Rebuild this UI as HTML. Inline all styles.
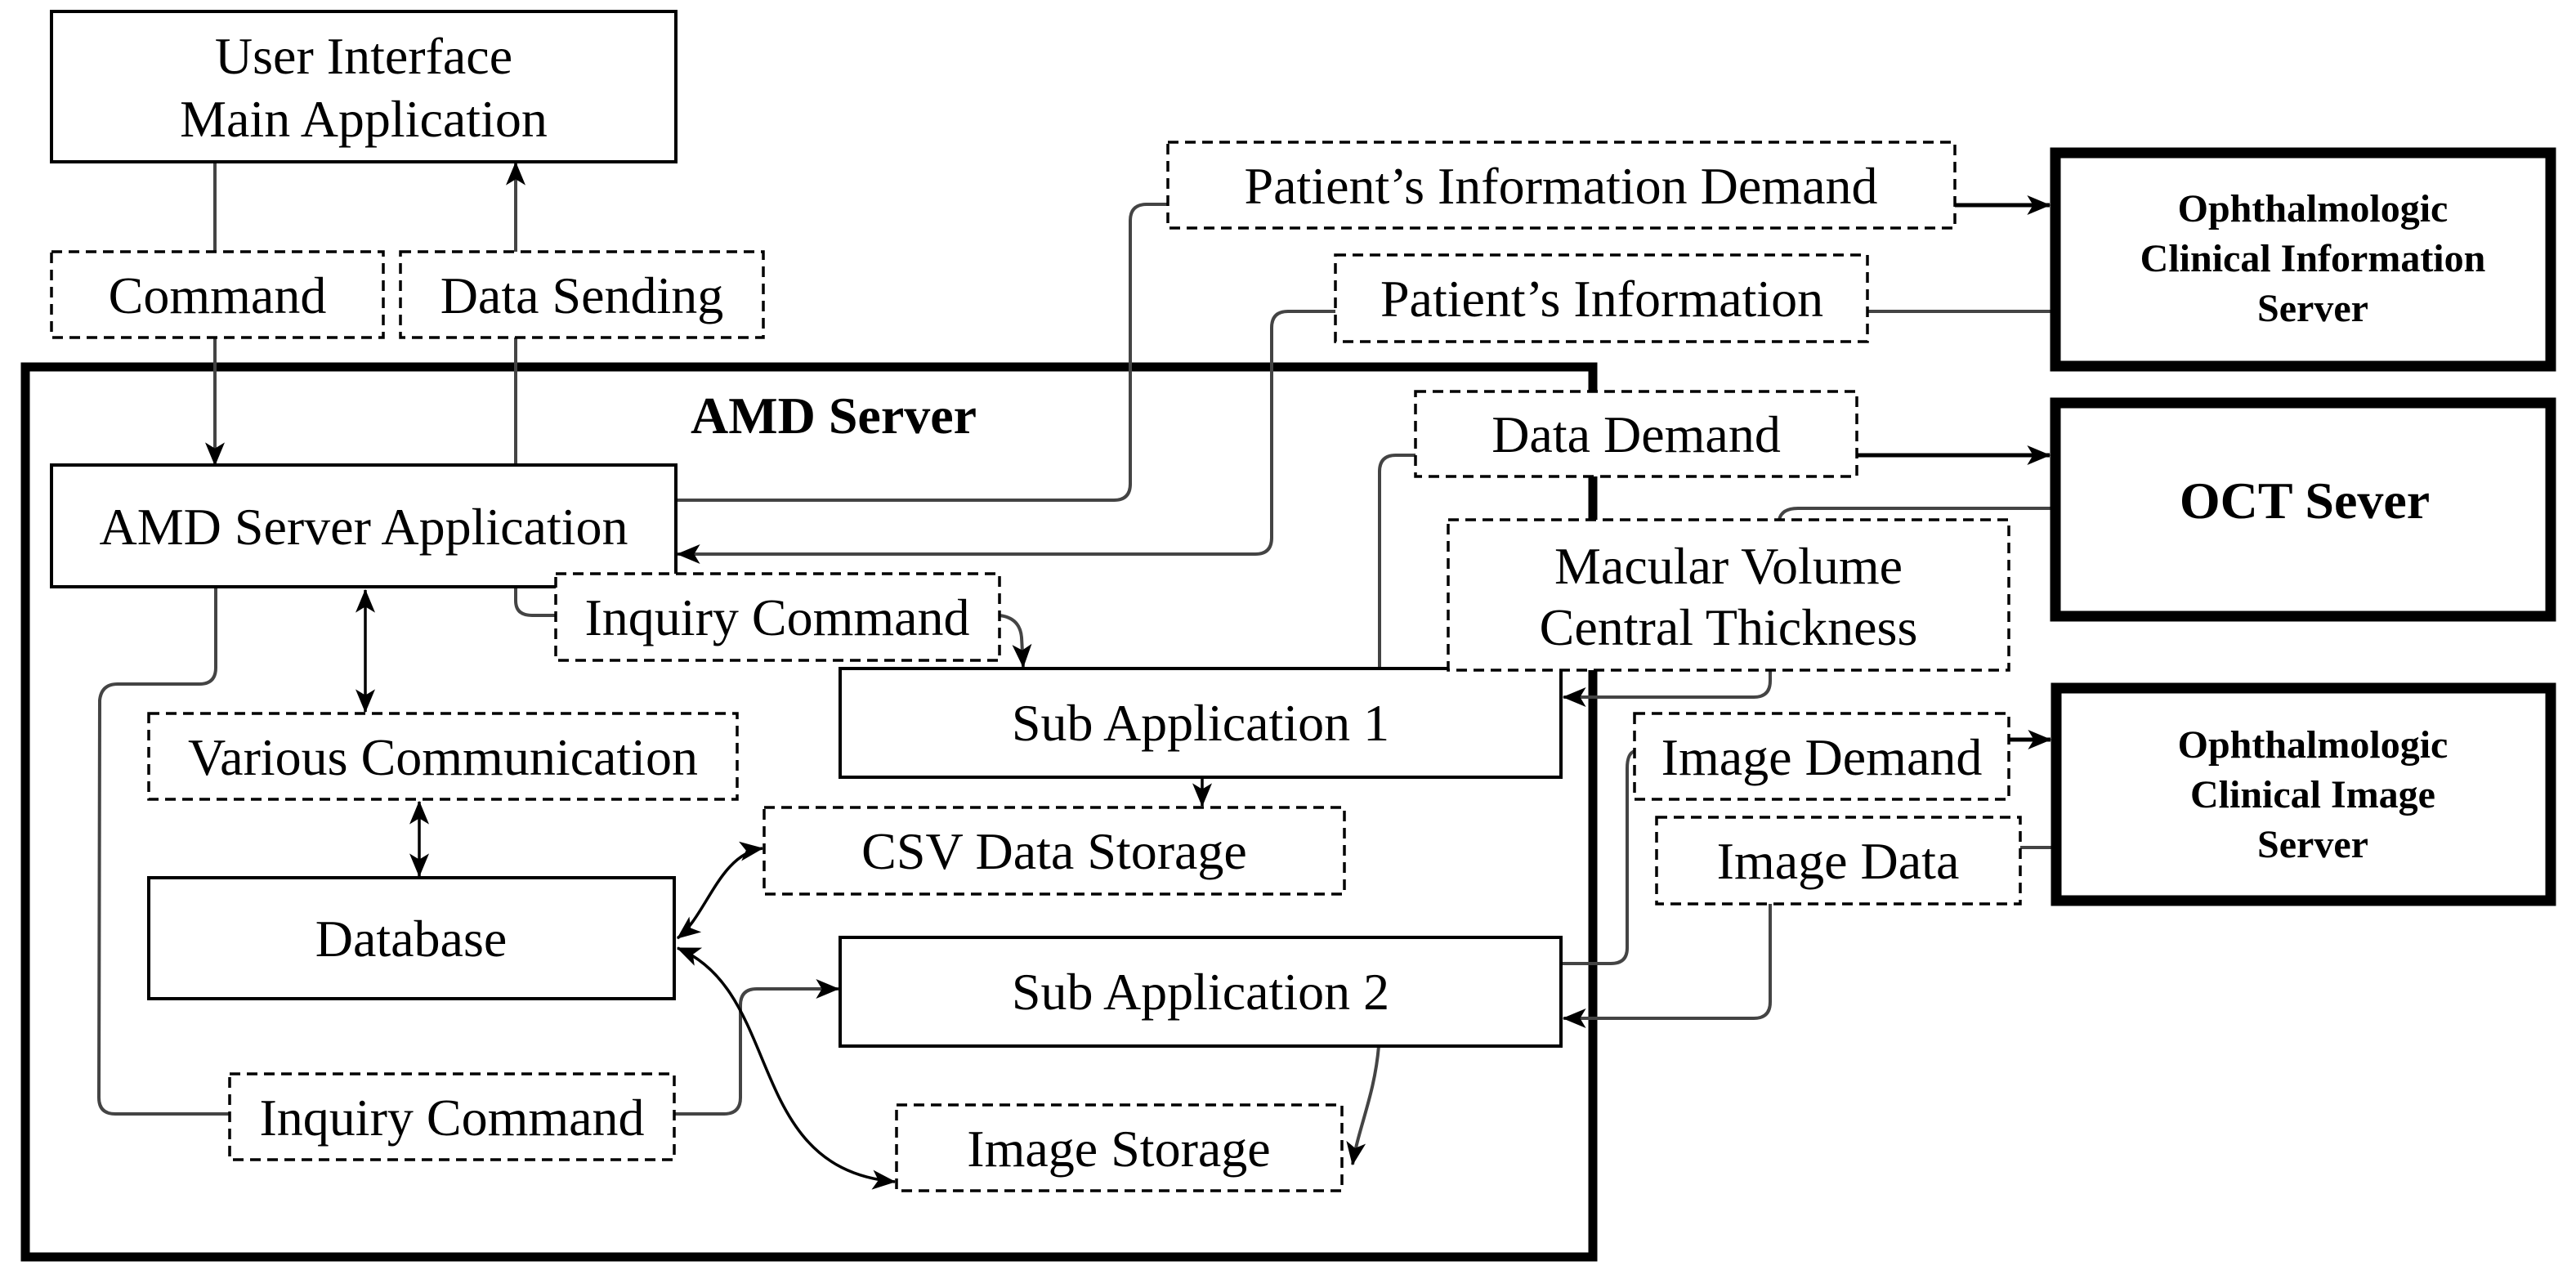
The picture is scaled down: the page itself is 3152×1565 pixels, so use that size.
<!DOCTYPE html>
<html><head><meta charset="utf-8"><style>
html,body{margin:0;padding:0;background:#fff;}
svg{display:block;}
text{font-family:"Liberation Serif",serif;fill:#000;}
</style></head><body>
<svg width="3152" height="1565" viewBox="0 0 3152 1565" xmlns="http://www.w3.org/2000/svg">
<defs>
<marker id="a" viewBox="0 0 24 20" refX="23" refY="10" markerWidth="30" markerHeight="24" markerUnits="userSpaceOnUse" orient="auto-start-reverse">
<path d="M0,0 L24,10 L0,20 L6,10 Z" fill="#000"/>
</marker>
</defs>
<rect width="3152" height="1565" fill="#fff"/>

<rect x="31" y="449" width="1918" height="1089" fill="none" stroke="#000" stroke-width="11"/>

<g fill="none" stroke="#444" stroke-width="4">
<line x1="263" y1="198" x2="263" y2="308"/>
<path d="M263,413 L263,569" marker-end="url(#a)"/>
<path d="M631,308 L631,199" marker-end="url(#a)"/>
<line x1="631" y1="413" x2="631" y2="569"/>
<path d="M827,612 L1363,612 Q1383,612 1383,592 L1383,270 Q1383,250 1403,250 L1429,250"/>
<path d="M2392,251 L2508,251" stroke="#000" stroke-width="5" marker-end="url(#a)"/>
<line x1="2509" y1="381" x2="2285" y2="381"/>
<path d="M1634,381 L1576,381 Q1556,381 1556,401 L1556,658 Q1556,678 1536,678 L829,678" marker-end="url(#a)"/>
<path d="M2272,557 L2508,557" stroke="#000" stroke-width="5" marker-end="url(#a)"/>
<path d="M1732,557 L1708,557 Q1688,557 1688,577 L1688,818"/>
<path d="M2509,622 L2200,622 Q2180,622 2177,636"/>
<path d="M2166,820 L2166,833 Q2166,853 2146,853 L1913,853" marker-end="url(#a)"/>
<path d="M2458,905 L2509,905" stroke="#000" stroke-width="5" marker-end="url(#a)"/>
<path d="M2000,919 Q1991,922 1991,940 L1991,1160 Q1991,1179 1971,1179 L1911,1179"/>
<line x1="2472" y1="1037" x2="2510" y2="1037"/>
<path d="M2166,1106 L2166,1226 Q2166,1246 2146,1246 L1913,1246" marker-end="url(#a)"/>
<path d="M631,718 L631,735 Q631,753 651,753 L680,753"/>
<path d="M1223,753 Q1248,756 1250,780 L1252,816" marker-end="url(#a)"/>
<path d="M264,718 L264,817 Q264,837 244,837 L144,837 Q124,837 122,857 L121,1343 Q121,1363 141,1363 L281,1363"/>
<path d="M825,1363 L886,1363 Q906,1363 906,1343 L906,1230 Q906,1210 926,1210 L1026,1210" marker-end="url(#a)"/>
<path d="M1687,1280 C1682,1340 1662,1380 1655,1425" marker-end="url(#a)"/>
</g>

<g fill="none" stroke="#000" stroke-width="3.5">
<path d="M447,722 L447,871" marker-start="url(#a)" marker-end="url(#a)"/>
<path d="M513,981 L513,1072" marker-start="url(#a)" marker-end="url(#a)"/>
<path d="M1471,951 L1471,986" marker-end="url(#a)"/>
<path d="M829,1148 C865,1120 880,1045 933,1038" marker-start="url(#a)" marker-end="url(#a)"/>
<path d="M829,1160 C960,1215 910,1430 1095,1446" marker-start="url(#a)" marker-end="url(#a)"/>
</g>

<g fill="#fff" stroke="#000" stroke-width="4">
<rect x="63" y="14" width="764" height="184"/>
<rect x="63" y="569" width="764" height="149"/>
<rect x="1028" y="818" width="882" height="133"/>
<rect x="1028" y="1147" width="882" height="133"/>
<rect x="182" y="1074" width="643" height="148"/>
</g>
<g fill="#fff" stroke="#000" stroke-width="13">
<rect x="2515" y="187" width="606" height="261"/>
<rect x="2515" y="493" width="606" height="261"/>
<rect x="2516" y="842" width="605" height="260"/>
</g>

<g fill="#fff" stroke="#000" stroke-width="3.5" stroke-dasharray="13 8">
<rect x="63" y="308" width="406" height="105"/>
<rect x="490" y="308" width="444" height="105"/>
<rect x="1429" y="174" width="963" height="105"/>
<rect x="1634" y="312" width="651" height="106"/>
<rect x="1732" y="479" width="540" height="104"/>
<rect x="1772" y="636" width="686" height="184"/>
<rect x="680" y="702" width="543" height="106"/>
<rect x="182" y="873" width="720" height="105"/>
<rect x="935" y="988" width="710" height="106"/>
<rect x="2000" y="873" width="458" height="105"/>
<rect x="2027" y="1000" width="445" height="106"/>
<rect x="281" y="1314" width="544" height="105"/>
<rect x="1097" y="1352" width="545" height="105"/>
</g>

<g font-size="64" text-anchor="middle">
<text x="445" y="90">User Interface</text>
<text x="445" y="167">Main Application</text>
<text x="266" y="383">Command</text>
<text x="712" y="383">Data Sending</text>
<text x="445" y="666">AMD Server Application</text>
<text x="1910" y="249">Patient’s Information Demand</text>
<text x="1960" y="387">Patient’s Information</text>
<text x="2002" y="553">Data Demand</text>
<text x="2115" y="714">Macular Volume</text>
<text x="2115" y="789">Central Thickness</text>
<text x="951" y="777">Inquiry Command</text>
<text x="542" y="948">Various Communication</text>
<text x="1469" y="906">Sub Application 1</text>
<text x="1290" y="1063">CSV Data Storage</text>
<text x="503" y="1170">Database</text>
<text x="1469" y="1235">Sub Application 2</text>
<text x="2229" y="948">Image Demand</text>
<text x="2249" y="1075">Image Data</text>
<text x="553" y="1389">Inquiry Command</text>
<text x="1369" y="1427">Image Storage</text>
</g>
<g font-weight="bold" text-anchor="middle">
<text x="1020" y="530" font-size="64">AMD Server</text>
<text x="2820" y="634" font-size="64">OCT Sever</text>
<text x="2830" y="271" font-size="48">Ophthalmologic</text>
<text x="2830" y="332" font-size="48">Clinical Information</text>
<text x="2830" y="393" font-size="48">Server</text>
<text x="2830" y="927" font-size="48">Ophthalmologic</text>
<text x="2830" y="988" font-size="48">Clinical Image</text>
<text x="2830" y="1049" font-size="48">Server</text>
</g>
</svg>
</body></html>
